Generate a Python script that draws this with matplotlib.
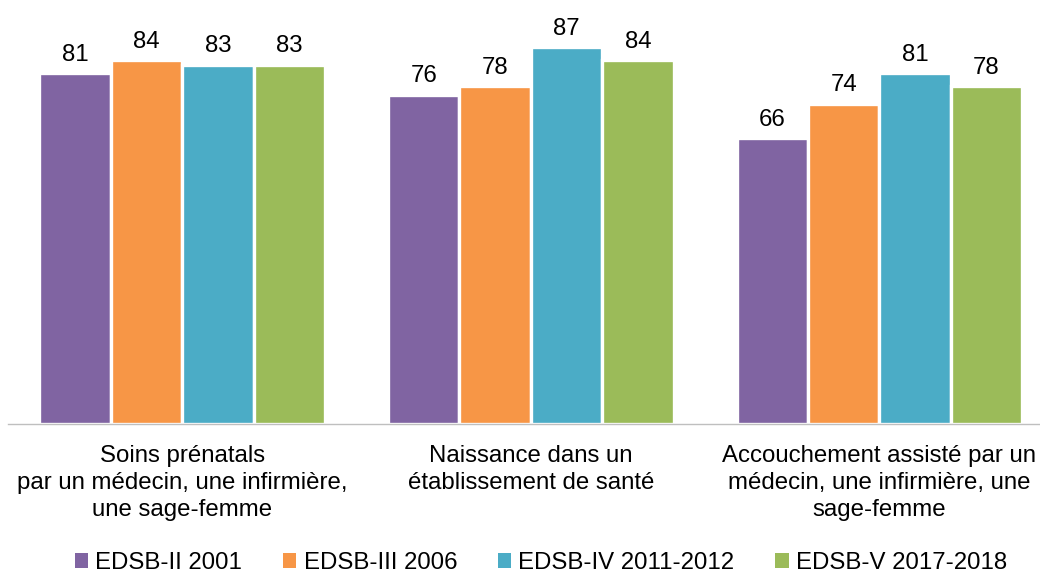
import matplotlib
matplotlib.use("Agg")
import matplotlib.pyplot as plt
import numpy as np
from matplotlib.patches import Patch

plt.rcParams['font.family'] = ['Liberation Sans', 'DejaVu Sans']

# indicateurs et valeurs (%) par enquete
categories = ["Soins prénatals\npar un médecin, une infirmière,\nune sage-femme",
              "Naissance dans un\nétablissement de santé",
              "Accouchement assisté par un\nmédecin, une infirmière, une\nsage-femme"]
series = ["EDSB-II 2001", "EDSB-III 2006", "EDSB-IV 2011-2012", "EDSB-V 2017-2018"]
edsb_2001 = [81, 76, 66]
edsb_2006 = [84, 78, 74]
edsb_2011 = [83, 87, 81]
edsb_2017 = [83, 84, 78]
colors = ["#8064A2", "#F79646", "#4BACC6", "#9BBB59"]

values = [edsb_2001, edsb_2006, edsb_2011, edsb_2017]
fs = 17.3

fig = plt.figure(figsize=(10.4, 5.72), dpi=100)
ax = fig.add_axes([7.9 / 1040, 148 / 572, 1045.8 / 1040, 433 / 572])

x = np.arange(len(categories))
w = 0.2048
for i, (vals, c) in enumerate(zip(values, colors)):
    pos = x + (i - 1.5) * w
    bars = ax.bar(pos, vals, width=w, color=c, edgecolor="white", linewidth=2.4)
    for b, v in zip(bars, vals):
        ax.annotate(str(v), (b.get_x() + b.get_width() / 2, v),
                    xytext=(0, 5.5), textcoords="offset points",
                    ha="center", va="bottom", fontsize=fs, color="black")

ax.set_xlim(-0.5, 2.5)
ax.set_ylim(0, 100)
ax.set_xticks(x)
ax.set_xticklabels(categories, fontsize=fs, linespacing=1.3)
ax.tick_params(axis="x", length=0, pad=15)
ax.set_yticks([])
for s in ["top", "left", "right"]:
    ax.spines[s].set_visible(False)
ax.spines["bottom"].set_color("#bfbfbf")
ax.spines["bottom"].set_linewidth(1.0)

handles = [Patch(facecolor=c, edgecolor="none") for c in colors]
fig.legend(handles, series, loc="center", bbox_to_anchor=(541 / 1040, 1 - 563 / 572),
           ncol=4, frameon=False, fontsize=fs, handlelength=0.55, handleheight=0.55,
           handletextpad=0.3, columnspacing=1.7, borderaxespad=0)

fig.savefig("out.png", dpi=100)
